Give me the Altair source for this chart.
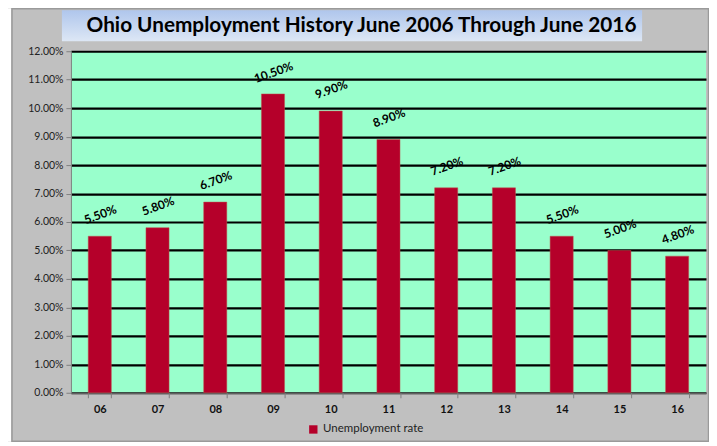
import altair as alt
import pandas as pd

years = ["06", "07", "08", "09", "10", "11", "12", "13", "14", "15", "16"]
rates = [0.055, 0.058, 0.067, 0.105, 0.099, 0.089, 0.072, 0.072, 0.055, 0.050, 0.048]
series_name = "Unemployment rate"
title_text = "Ohio Unemployment History June 2006 Through June 2016"
y_ticks = [i / 100 for i in range(0, 13)]

df = pd.DataFrame({"year": years, "rate": rates, "series": [series_name] * len(years)})
df["label"] = [f"{r*100:.2f}%" for r in rates]

FONT = "Lato"

base = alt.Chart(df)

x_enc = alt.X(
    "year:N",
    title=None,
    scale=alt.Scale(paddingInner=0.6, paddingOuter=0.3),
    axis=alt.Axis(
        labelAngle=0, labelFont=FONT, labelFontWeight="bold", labelFontSize=11,
        labelColor="#111111", labelPadding=6, tickBand="extent", tickSize=5,
        tickColor="#808080", domainColor="#808080", grid=False,
    ),
)
y_enc = alt.Y(
    "rate:Q",
    title=None,
    scale=alt.Scale(domain=[0, 0.12], nice=False),
    axis=alt.Axis(
        values=y_ticks, format=".2%", labelFont=FONT, labelFontSize=10.5,
        labelColor="#222222", tickSize=5, tickColor="#808080",
        domainColor="#808080", grid=True, gridColor="#000000", gridWidth=2.2,
        gridOpacity=1, labelPadding=3, labelOverlap=False,
    ),
)

bars = base.mark_bar(stroke="#C0504D", strokeWidth=0.5).encode(
    x=x_enc,
    y=y_enc,
    color=alt.Color(
        "series:N",
        scale=alt.Scale(range=["#B5002A"]),
        legend=alt.Legend(
            title=None, orient="none", legendX=237, legendY=373,
            symbolType="square", symbolSize=70, symbolStrokeWidth=0,
            labelFont=FONT, labelFontSize=11.5, labelColor="#222222",
        ),
    ),
)

labels = base.mark_text(
    font=FONT, fontSize=12, fontWeight="bold", color="#000000",
    angle=340, baseline="middle", align="center", dy=-20, dx=8,
).encode(x=x_enc, y=y_enc, text="label:N")

tdf = pd.DataFrame({"t": [title_text]})

frame = alt.Chart(tdf).mark_rect(
    fillOpacity=0, stroke="#9A9A9A", strokeWidth=1.5
).encode(x=alt.value(-59), x2=alt.value(638.5), y=alt.value(-42.5), y2=alt.value(390.5))

white_strip = alt.Chart(tdf).mark_rect(color="#FFFFFF").encode(
    x=alt.value(-63), x2=alt.value(-59.7), y=alt.value(-43), y2=alt.value(391)
)

title_box = alt.Chart(tdf).mark_rect(
    color=alt.Gradient(
        gradient="linear",
        stops=[alt.GradientStop(color="#AFC6EC", offset=0),
               alt.GradientStop(color="#DDE7F5", offset=1)],
        x1=0, x2=0, y1=0, y2=1,
    )
).encode(x=alt.value(-9), x2=alt.value(572), y=alt.value(-41), y2=alt.value(-10))

title_txt = alt.Chart(tdf).mark_text(
    font=FONT, fontSize=20.8, fontWeight="bold", color="#000000",
    align="center", baseline="middle",
).encode(x=alt.value(291), y=alt.value(-25), text="t:N")

chart = alt.layer(white_strip, frame, bars, labels, title_box, title_txt).properties(
    width=636, height=342,
    autosize=alt.AutoSizeParams(type="none"),
    padding={"left": 63, "top": 43, "right": 3, "bottom": 49},
    background="#C0C0C0",
).configure_view(fill="#99FFCC", stroke=None)

chart.save("out.html", embed_options={"renderer": "svg", "actions": False})
